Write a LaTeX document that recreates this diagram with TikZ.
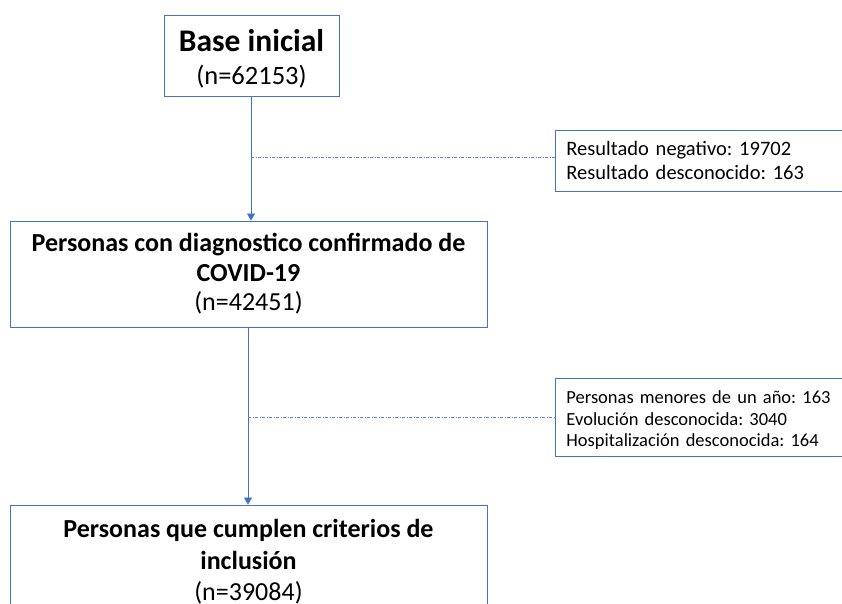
\documentclass[tikz,border=0pt]{standalone}
\usepackage{fontspec}
\setmainfont{Carlito}
\frenchspacing
\usetikzlibrary{arrows.meta}
\definecolor{boxblue}{HTML}{4472C4}
\definecolor{dotblue}{HTML}{5B85D6}
\tikzset{
  mainbox/.style={draw=boxblue, line width=0.9pt, align=center, inner sep=0pt, text=black},
  sidebox/.style={draw=boxblue, line width=0.9pt, align=left, inner xsep=11pt, inner ysep=0pt, anchor=west, text=black},
  flow/.style={draw=boxblue, line width=0.8pt, -{Triangle[width=8pt,length=7pt]}},
  excl/.style={draw=dotblue, line width=0.8pt, dash pattern=on 3pt off 1.5pt on 1pt off 1.5pt}
}
\begin{document}
\begin{tikzpicture}[x=1pt,y=-1pt]
\useasboundingbox (0,0) rectangle (842,604);
\clip (0,0) rectangle (842,604);
\fill[white] (0,0) rectangle (842,604);
\node[mainbox, minimum width=175pt, minimum height=81pt, font=\fontsize{26.5}{33}\selectfont] (b1) at (251.5,55.5)
  {{\fontsize{31.5}{33}\selectfont\bfseries\rule{0pt}{28pt}Base inicial}\\(n=62153)};
\node[mainbox, minimum width=477pt, minimum height=106pt, font=\fontsize{26}{29.5}\selectfont] (b2) at (248.5,274)
  {\textbf{Personas con diagnostico confirmado de}\\
   \textbf{COVID-19}\\
   (n=42451)};
\node[mainbox, minimum width=477pt, minimum height=112pt, font=\fontsize{26}{31.5}\selectfont] (b3) at (248.5,561)
  {\textbf{\rule{0pt}{20pt}Personas que cumplen criterios de}\\
   \textbf{inclusión}\\
   (n=39084)};
\node[sidebox, text width=330pt, minimum height=61pt, font=\fontsize{20.5}{24}\selectfont] (s1) at (555,160.5)
  {Resultado negativo: 19702\\Resultado desconocido: 163};
\node[sidebox, text width=330pt, minimum height=78pt, font=\fontsize{18.5}{21.5}\selectfont] (s2) at (555,417)
  {\rule{0pt}{19pt}Personas menores de un año: 163\\Evolución desconocida: 3040\\Hospitalización desconocida: 164};
\coordinate (j1) at (251,157);
\coordinate (j2) at (248,417);
\draw[flow] (j1 |- b1.south) -- (j1 |- b2.north);
\draw[flow] (j2 |- b2.south) -- (j2 |- b3.north);
\draw[excl] (j1) -- (j1 -| s1.west);
\draw[excl] (j2) -- (j2 -| s2.west);
\end{tikzpicture}
\end{document}
